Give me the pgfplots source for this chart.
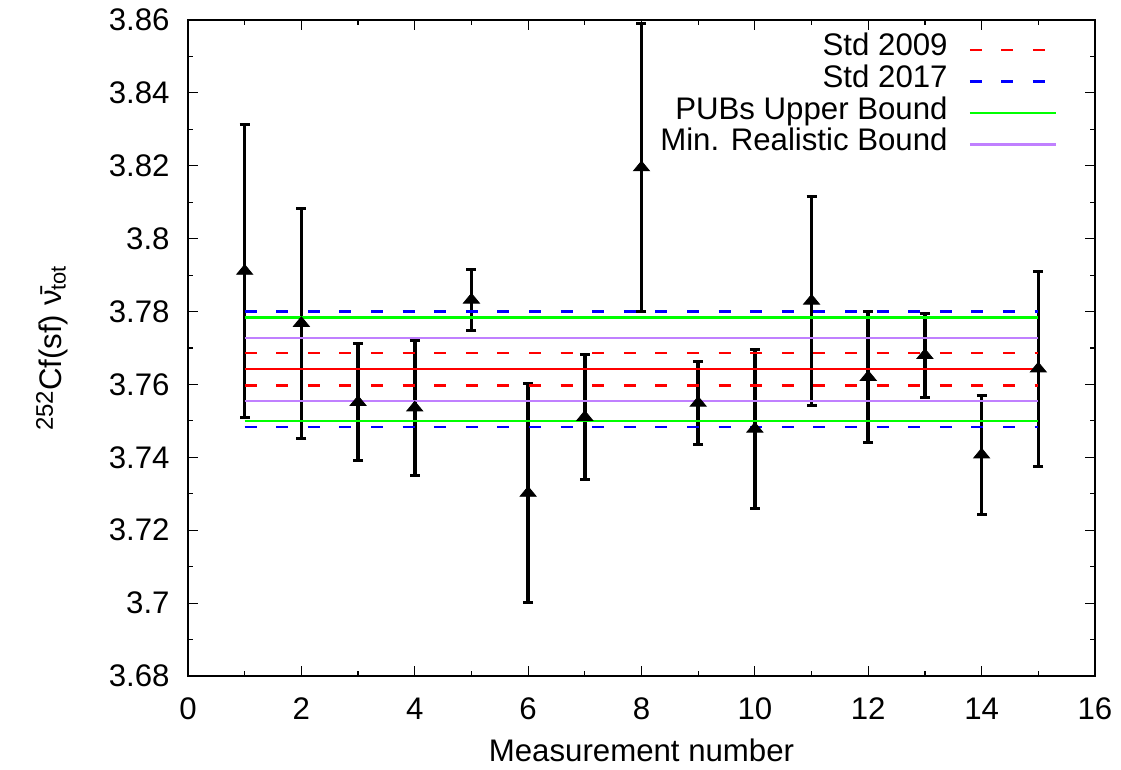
\documentclass[border=0pt]{standalone}
\usepackage{fontspec}
\setmainfont{Liberation Sans}
\usepackage{pgfplots}
\usepackage{pgfplotstable}
\pgfplotsset{compat=1.18}

\definecolor{gpred}{RGB}{255,0,0}
\definecolor{gpblue}{RGB}{0,0,255}
\definecolor{gpgreen}{RGB}{0,255,0}
\definecolor{gppurple}{RGB}{192,128,255}

% measurement, value, symmetric error
\pgfplotstableread{
x y err
1 3.7911 0.0402
2 3.7768 0.0315
3 3.7551 0.0161
4 3.7536 0.0185
5 3.7832 0.0084
6 3.7302 0.0300
7 3.7510 0.0172
8 3.8195 0.0395
9 3.7549 0.0113
10 3.7478 0.0218
11 3.7829 0.0286
12 3.7620 0.0180
13 3.7680 0.0115
14 3.7407 0.0164
15 3.7643 0.0268
}\meas

\begin{document}
\begin{tikzpicture}[font=\fontsize{15.6}{18}\selectfont]
\begin{axis}[
    scale only axis,
    width=453.5pt, height=328pt,
    xmin=0, xmax=16, ymin=3.68, ymax=3.86,
    xtick={0,2,4,6,8,10,12,14,16},
    minor xtick={1,3,5,7,9,11,13,15},
    ytick={3.68,3.70,3.72,3.74,3.76,3.78,3.80,3.82,3.84,3.86},
    minor ytick={3.69,3.71,3.73,3.75,3.77,3.79,3.81,3.83,3.85},
    major tick length=5pt, minor tick length=2.5pt,
    tick style={black, line width=0.6pt},
    axis line style={line width=0.8pt},
    /pgf/number format/assume math mode=true,
    scaled y ticks=false,
    yticklabel style={/pgf/number format/fixed, /pgf/number format/precision=2,
        anchor=east, inner sep=0pt, xshift=-9pt},
    xticklabel style={anchor=base, yshift=-22pt},
    xlabel={Measurement number},
    xlabel style={at={(axis description cs:0.5,-0.1311)}, anchor=base},
    ylabel={{\fontsize{12}{14}\selectfont 252}\raisebox{-0.5ex}{Cf(sf) ν̄\textsubscript{tot}}},
    ylabel style={at={(axis description cs:-0.1500,0.5)}, anchor=center},
    legend cell align=right,
    legend plot pos=right,
    legend image code/.code={\draw[#1] (0pt,0pt) -- (43pt,0pt);},
    legend style={draw=none, fill=none, at={(axis description cs:1,1)},
        anchor=north east, xshift=-19pt, yshift=-7pt,
        inner sep=0pt, outer sep=0pt, column sep=10.5pt, row sep=0pt,
        nodes={inner sep=0pt, text height=11pt, text depth=4.8pt}},
]

% measurements with error bars
\addplot[black, only marks, mark=triangle*, mark size=4.6pt,
    mark options={yscale=0.7}, forget plot,
    error bars/.cd, y dir=both, y explicit,
    error bar style={line width=1.8pt},
    error mark=|, error mark options={line width=1.5pt, mark size=2.5pt}]
    table[x=x, y=y, y error=err] {\meas};

% standard 2009 band
\addplot[gpred, line width=1.2pt, dash pattern=on 6pt off 9.8pt]
    coordinates {(1,3.7686) (15,3.7686)};
\addlegendentry{Std 2009}
\addplot[gpred, line width=1.2pt, dash pattern=on 6pt off 9.8pt, forget plot]
    coordinates {(1,3.7597) (15,3.7597)};

% standard 2017 band
\addplot[gpblue, line width=1.2pt, dash pattern=on 6pt off 9.8pt]
    coordinates {(1,3.7800) (15,3.7800)};
\addlegendentry{Std 2017}
\addplot[gpblue, line width=1.2pt, dash pattern=on 6pt off 9.8pt, forget plot]
    coordinates {(1,3.7484) (15,3.7484)};

% PUBs bound
\addplot[gpgreen, line width=1.2pt]
    coordinates {(1,3.7784) (15,3.7784)};
\addlegendentry{PUBs Upper Bound}
\addplot[gpgreen, line width=1.2pt, forget plot]
    coordinates {(1,3.7499) (15,3.7499)};

% minimal realistic bound
\addplot[gppurple, line width=1.2pt]
    coordinates {(1,3.7728) (15,3.7728)};
\addlegendentry{Min. Realistic Bound}
\addplot[gppurple, line width=1.2pt, forget plot]
    coordinates {(1,3.7555) (15,3.7555)};

% central value
\addplot[gpred, line width=1.2pt, forget plot]
    coordinates {(1,3.7643) (15,3.7643)};

\end{axis}
\path (current axis.south west) ++(-94pt,-47pt) rectangle ++(560.5pt,385pt);
\end{tikzpicture}
\end{document}
